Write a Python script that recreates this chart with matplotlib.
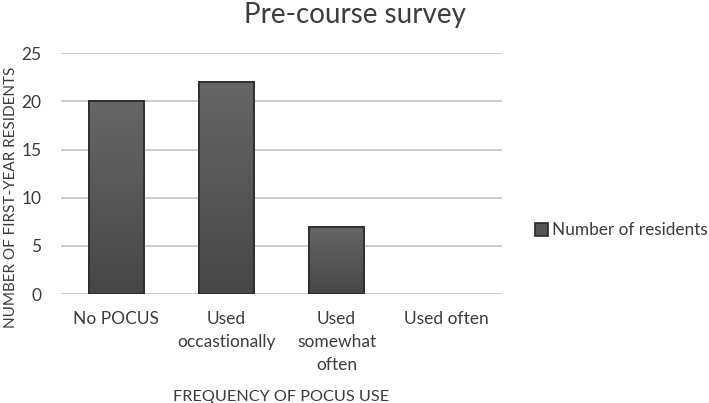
import matplotlib
matplotlib.use("Agg")
import matplotlib.pyplot as plt
import numpy as np

# data
categories = ["No POCUS", "Used\noccastionally", "Used\nsomewhat\noften", "Used often"]
residents = [20, 22, 7, 0]
y_ticks = [0, 5, 10, 15, 20, 25]
series_name = "Number of residents"

plt.rcParams["font.family"] = ["Lato", "DejaVu Sans"]
text_color = "#3c3c3c"

fig = plt.figure(figsize=(7.09, 4.03), dpi=100)
ax = fig.add_axes([0.086, 0.270, 0.622, 0.598])

x = np.arange(len(categories))
bars = ax.bar(x, residents, width=0.5, color="#545454", edgecolor="#2a2a2a",
              linewidth=1.2, zorder=3)

# vertical gradient inside each bar
grad = np.linspace(0, 1, 256).reshape(-1, 1)
cmap = matplotlib.colors.LinearSegmentedColormap.from_list("g", ["#474747", "#666666"])
for b, v in zip(bars, residents):
    if v == 0:
        b.set_linewidth(0)
        continue
    im = ax.imshow(grad, cmap=cmap, origin="lower", aspect="auto", zorder=3.5,
                   extent=[b.get_x(), b.get_x() + b.get_width(), 0, b.get_height()])
    im.set_clip_path(b)
    ax.bar(b.get_x() + b.get_width() / 2, v, width=b.get_width(), fill=False,
           edgecolor="#2a2a2a", linewidth=1.2, zorder=4)

ax.set_xlim(-0.5, len(categories) - 0.5)
ax.set_ylim(0, 25)
ax.set_aspect("auto")
ax.set_yticks(y_ticks)
ax.yaxis.grid(True, color="#c4c4c4", linewidth=1.2, zorder=0)
for s in ax.spines.values():
    s.set_visible(False)
ax.tick_params(axis="both", length=0, labelsize=12.5, colors=text_color)
ax.tick_params(axis="y", pad=14)
ax.tick_params(axis="x", pad=12)
ax.set_xticks(x)
ax.set_xticklabels(categories, linespacing=1.55)

ax.set_xlabel("FREQUENCY OF POCUS USE", fontsize=11.7, color=text_color, labelpad=12)
ax.set_ylabel("NUMBER OF FIRST-YEAR RESIDENTS", fontsize=11, color=text_color)
ax.yaxis.set_label_coords(-0.098, 0.40)

fig.text(0.50, 0.962, "Pre-course survey", ha="center", va="center",
         fontsize=20, color=text_color)

leg = ax.legend([bars[0]], [series_name], loc="center left", bbox_to_anchor=(1.04, 0.265),
                frameon=False, fontsize=12.4, handlelength=0.75, handleheight=0.75,
                handletextpad=0.25)
for t in leg.get_texts():
    t.set_color(text_color)

plt.savefig("out.png", dpi=100)
plt.close()
